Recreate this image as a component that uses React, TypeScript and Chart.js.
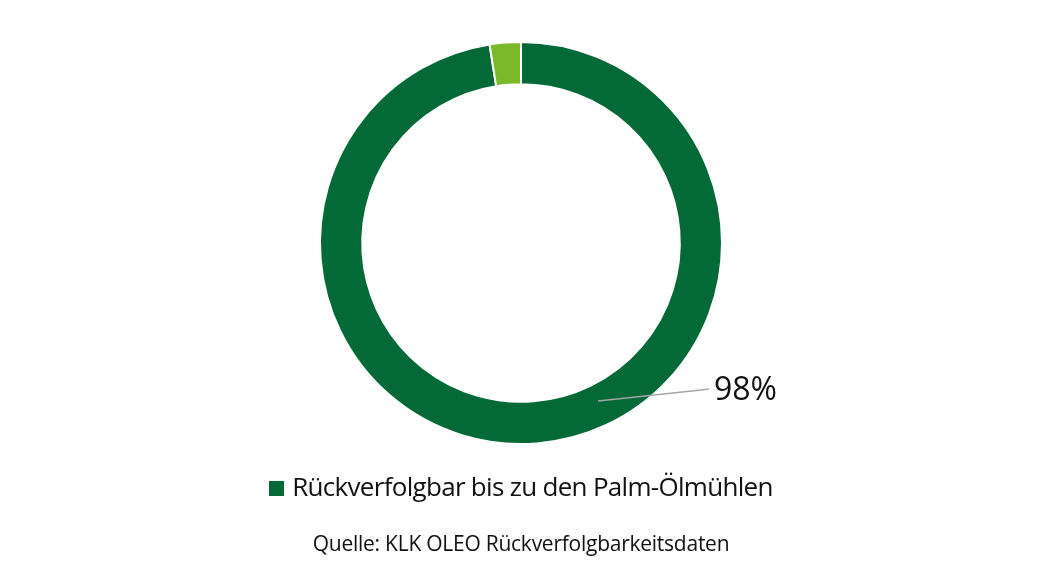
import { useEffect, useRef } from "react";
import { Chart, registerables, type Plugin } from "chart.js";

Chart.register(...registerables);

const categories = ["Rückverfolgbar bis zu den Palm-Ölmühlen", "Nicht rückverfolgbar"];
const shares = [97.5, 2.5];
const colors = ["#036937", "#7ab929"];
const calloutText = "98%";
const sourceText = "Quelle: KLK OLEO Rückverfolgbarkeitsdaten";

const FONT = "'Open Sans', sans-serif";

// leader line + value label for the big slice
const calloutPlugin: Plugin<"doughnut"> = {
  id: "callout",
  afterDatasetsDraw(chart) {
    const arc = chart.getDatasetMeta(0).data[0] as any;
    if (!arc) return;
    const { x, y, innerRadius, outerRadius } = arc.getProps(["x", "y", "innerRadius", "outerRadius"], true);
    const a = (64 * Math.PI) / 180;
    const r = (innerRadius + outerRadius) / 2 - 4;
    const sx = x + Math.cos(a) * r;
    const sy = y + Math.sin(a) * r;
    const ex = x + outerRadius - 13;
    const ey = sy - 12;
    const ctx = chart.ctx;
    ctx.save();
    ctx.strokeStyle = "#a6a6a6";
    ctx.lineWidth = 1.5;
    ctx.beginPath();
    ctx.moveTo(sx, sy);
    ctx.lineTo(ex - 8, ey + 1);
    ctx.lineTo(ex, ey);
    ctx.stroke();
    ctx.fillStyle = "#111";
    ctx.font = `32px ${FONT}`;
    ctx.textBaseline = "alphabetic";
    ctx.textAlign = "left";
    ctx.fillText(calloutText, ex + 5, ey + 11);
    ctx.restore();
  },
};

function DonutChart() {
  const canvasRef = useRef<HTMLCanvasElement>(null);

  useEffect(() => {
    if (!canvasRef.current) return;
    const chart = new Chart(canvasRef.current, {
      type: "doughnut",
      data: {
        labels: categories,
        datasets: [
          {
            data: shares,
            backgroundColor: colors,
            borderColor: "#fff",
            borderWidth: 2,
            hoverOffset: 0,
          },
        ],
      },
      options: {
        responsive: true,
        maintainAspectRatio: false,
        animation: false,
        cutout: "79%",
        layout: { padding: { top: 41, bottom: 139, left: 0, right: 0 } },
        plugins: {
          legend: { display: false },
          tooltip: { enabled: false },
        },
      },
      plugins: [calloutPlugin],
    });
    return () => chart.destroy();
  }, []);

  return <canvas ref={canvasRef} />;
}

export default function App() {
  return (
    <div style={{ position: "fixed", left: 0, top: 0, width: 1042, height: 584, background: "#fff", fontFamily: FONT }}>
      <div style={{ position: "absolute", left: 0, top: 0, width: 1042, height: 584 }}>
        <DonutChart />
      </div>
      <div
        style={{
          position: "absolute",
          left: 0,
          width: 1042,
          top: 468,
          display: "flex",
          justifyContent: "center",
          alignItems: "center",
          fontSize: 26,
          color: "#111",
          letterSpacing: -0.7,
        }}
      >
        <span style={{ display: "inline-block", width: 15, height: 15, background: colors[0], marginRight: 8, marginTop: 4 }} />
        <span>{categories[0]}</span>
      </div>
      <div
        style={{
          position: "absolute",
          left: 0,
          width: 1042,
          top: 529,
          textAlign: "center",
          fontSize: 21,
          color: "#111",
          letterSpacing: -0.25,
        }}
      >
        {sourceText}
      </div>
    </div>
  );
}
